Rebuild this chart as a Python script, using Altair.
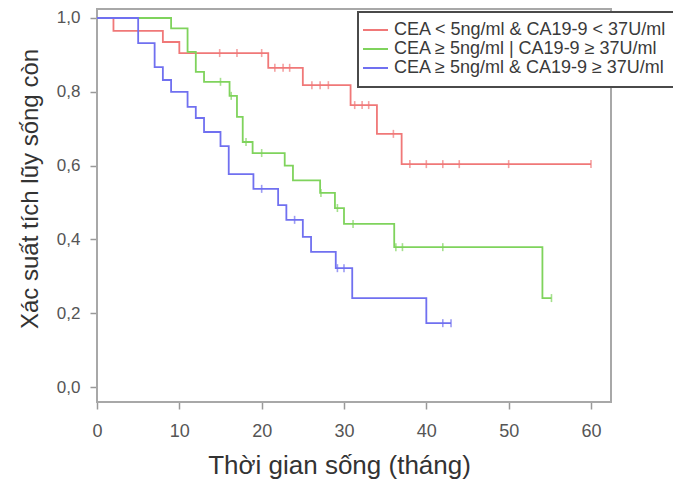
import altair as alt
import pandas as pd

# ---- data ----
groups = [
    "CEA < 5ng/ml & CA19-9 < 37U/ml",
    "CEA ≥ 5ng/ml | CA19-9 ≥ 37U/ml",
    "CEA ≥ 5ng/ml & CA19-9 ≥ 37U/ml",
]
colors = ["#f07878", "#7fd35c", "#7070f0"]

red_t = [0, 2, 8, 10, 20.8, 25, 30.8, 34, 37, 60]
red_s = [1.0, 0.965, 0.935, 0.905, 0.865, 0.818, 0.764, 0.686, 0.604, 0.604]
red_ct = [14.9, 17, 20, 21.6, 22.6, 23.4, 26.1, 27.1, 28.1, 31.3, 32.2, 33.0, 36, 38, 40, 42, 44, 50, 60]
red_cs = [0.905, 0.905, 0.905, 0.865, 0.865, 0.865, 0.818, 0.818, 0.818, 0.764, 0.764, 0.764,
          0.686, 0.604, 0.604, 0.604, 0.604, 0.604, 0.604]

green_t = [0, 9, 11, 12, 13, 16.1, 17, 17.7, 18.9, 22.8, 23.8, 27.1, 28.9, 30, 36.1, 54.1, 55.2]
green_s = [1.0, 0.972, 0.908, 0.854, 0.827, 0.789, 0.732, 0.664, 0.634, 0.600, 0.560, 0.526,
           0.485, 0.442, 0.379, 0.241, 0.241]
green_ct = [15, 16.3, 18.1, 20, 27.2, 29.2, 31.1, 36.3, 37.1, 42, 55.2]
green_cs = [0.827, 0.789, 0.664, 0.634, 0.526, 0.485, 0.442, 0.379, 0.379, 0.379, 0.241]

blue_t = [0, 5, 7, 8, 9, 11, 12, 13, 15, 16, 19, 22, 23, 25, 26, 29, 31, 40, 43]
blue_s = [1.0, 0.932, 0.867, 0.832, 0.800, 0.759, 0.729, 0.691, 0.653, 0.577, 0.537, 0.493,
          0.453, 0.407, 0.366, 0.322, 0.241, 0.173, 0.173]
blue_ct = [20, 24, 29.2, 30, 42, 43]
blue_cs = [0.537, 0.453, 0.322, 0.322, 0.173, 0.173]

x_ticks = [0, 10, 20, 30, 40, 50, 60]
y_ticks = [0.0, 0.2, 0.4, 0.6, 0.8, 1.0]

x_title = "Thời gian sống (tháng)"
y_title = "Xác suất tích lũy sống còn"

# ---- tables ----
curve_rows, cens_rows = [], []
for g, ts, ss, cts, css in zip(groups, [red_t, green_t, blue_t], [red_s, green_s, blue_s],
                               [red_ct, green_ct, blue_ct], [red_cs, green_cs, blue_cs]):
    for t, s in zip(ts, ss):
        curve_rows.append({"group": g, "t": t, "s": s})
    for t, s in zip(cts, css):
        cens_rows.append({"group": g, "t": t, "s": s})
curves = pd.DataFrame(curve_rows)
cens = pd.DataFrame(cens_rows)
one = pd.DataFrame({"k": [0]})

FONT = "Liberation Sans"
W, H = 514, 394
RIGHT = 63  # svg right padding -> svg edge at plot x = W + RIGHT

xscale = alt.Scale(domain=[0, 62.43], nice=False, zero=False)
yscale = alt.Scale(domain=[-0.04065, 1.0271], nice=False, zero=False)
cscale = alt.Scale(domain=groups, range=colors)

xaxis = alt.Axis(values=x_ticks, domain=False, grid=False, tickSize=7, tickColor="#999999",
                 tickWidth=1.5, labelFont=FONT, labelFontSize=18, labelColor="#555555",
                 labelPadding=27, labelBaseline="alphabetic", labelFlush=False,
                 title=x_title, titleFont=FONT, titleFontSize=26, titleFontWeight="normal",
                 titleColor="#333333", titleX=242, titleY=71, titleAlign="center",
                 titleBaseline="alphabetic")
yaxis = alt.Axis(values=y_ticks, domain=False, grid=False, tickSize=7, tickColor="#999999",
                 tickWidth=1.5, labelFont=FONT, labelFontSize=17, labelColor="#555555",
                 labelPadding=10, labelBaseline="middle",
                 labelExpr="replace(format(datum.value, '.1f'), '.', ',')",
                 title=y_title, titleFont=FONT, titleFontSize=24, titleFontWeight="normal",
                 titleColor="#333333", titleX=-60, titleY=180.5, titleAlign="center",
                 titleBaseline="alphabetic", titleAngle=270)

frame = alt.Chart(one).mark_rect(fill="white", fillOpacity=0, stroke="#a8a8a8",
                                 strokeWidth=2).encode(
    x=alt.value(0), x2=alt.value(W), y=alt.value(1), y2=alt.value(H))

lines = alt.Chart(curves).mark_line(interpolate="step-after", strokeWidth=1.8).encode(
    x=alt.X("t:Q", scale=xscale, axis=xaxis),
    y=alt.Y("s:Q", scale=yscale, axis=yaxis),
    color=alt.Color("group:N", scale=cscale, legend=None),
    detail="group:N",
)

ticks = alt.Chart(cens).mark_tick(orient="vertical", size=8, thickness=1.6).encode(
    x=alt.X("t:Q", scale=xscale),
    y=alt.Y("s:Q", scale=yscale),
    color=alt.Color("group:N", scale=cscale, legend=None),
)

LX, LT, LB, LR = 261, 4, 79, W + RIGHT - 1
legend_fill = alt.Chart(one).mark_rect(fill="white").encode(
    x=alt.value(LX), x2=alt.value(LR), y=alt.value(LT), y2=alt.value(LB))
legend_top = alt.Chart(one).mark_rule(color="#4a4a4a", strokeWidth=2).encode(
    x=alt.value(LX), x2=alt.value(LR), y=alt.value(LT))
legend_bottom = alt.Chart(one).mark_rule(color="#4a4a4a", strokeWidth=2).encode(
    x=alt.value(LX), x2=alt.value(LR), y=alt.value(LB))
legend_left = alt.Chart(one).mark_rule(color="#4a4a4a", strokeWidth=2).encode(
    x=alt.value(LX), y=alt.value(LT - 1), y2=alt.value(LB + 1))

legend_layers = []
row_y = [22, 41, 60]
for g, c, yy in zip(groups, colors, row_y):
    legend_layers.append(alt.Chart(one).mark_rule(color=c, strokeWidth=2).encode(
        x=alt.value(266), x2=alt.value(291), y=alt.value(yy)))
    legend_layers.append(alt.Chart(one).mark_text(
        text=g, font=FONT, fontSize=18, color="#3a3a3a", align="left",
        baseline="middle").encode(x=alt.value(297), y=alt.value(yy)))

chart = alt.layer(frame, lines, ticks, legend_fill, legend_top, legend_bottom, legend_left,
                  *legend_layers).properties(
    width=W, height=H,
    padding={"left": 89, "top": 0, "right": RIGHT, "bottom": 80},
    autosize=alt.AutoSizeParams(type="none"),
).configure_view(strokeWidth=0)

chart.save("out.html", embed_options={"renderer": "svg", "actions": False})
